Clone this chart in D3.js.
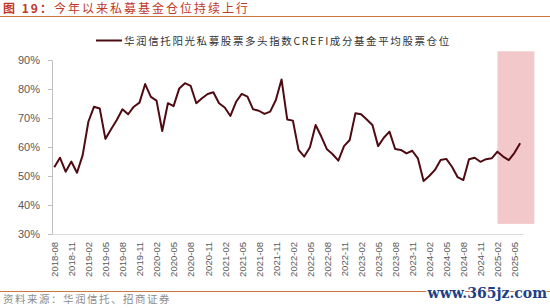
<!DOCTYPE html>
<html>
<head>
<meta charset="utf-8">
<script src="https://cdn.jsdelivr.net/npm/d3@7"></script>
<style>
  body { margin: 0; background: #fff; }
  svg { display: block; }
  .axis text { font-family: "Liberation Sans", Arial, sans-serif; fill: #595959; }
  .cjk { font-family: "Noto Sans CJK SC", sans-serif; }
</style>
</head>
<body>
<svg id="chart"></svg>
<script>
// months of the series (monthly, first and last)
const startMonth = "2018-08";
const endMonth = "2025-06";

// average equity position of CREFI constituent funds (%)
const positionValues = [
  53.0, 56.3, 51.5, 55.0, 51.1, 57.2, 68.7, 73.9, 73.3, 62.8,
  66.1, 69.3, 73.0, 71.3, 73.9, 75.3, 81.7, 77.3, 76.0, 65.5,
  75.1, 74.1, 80.2, 82.0, 81.1, 75.1, 76.8, 78.3, 78.9, 75.1,
  73.6, 70.7, 75.6, 78.3, 77.4, 73.0, 72.5, 71.4, 72.2, 76.2,
  83.3, 69.5, 69.1, 59.0, 56.7, 59.9, 67.6, 63.6, 59.2, 57.5,
  55.3, 60.3, 62.4, 71.6, 71.3, 69.5, 67.6, 60.3, 63.2, 65.3,
  59.3, 59.0, 57.8, 58.7, 56.1, 48.3, 50.0, 52.1, 55.5, 55.9,
  53.2, 49.6, 48.6, 55.8, 56.3, 54.9, 55.8, 56.1, 58.4, 56.7,
  55.5, 58.0, 61.3
];

const yTicks = [30, 40, 50, 60, 70, 80, 90];

// highlighted period (this year)
const shadeMonths = ["2025-02", "2025-08"];
const shadeRange = [33.5, 93];

const titleLabel = "图 19：";
const titleText = "今年以来私募基金仓位持续上行";
const legendLabel = "华润信托阳光私募股票多头指数CREFI成分基金平均股票仓位";
const sourceText = "资料来源：华润信托、招商证券";
const watermarkText = "www.365jz.com";

class LineChart {
  constructor(_config, _data) {
    this.config = {
      parentElement: _config.parentElement,
      containerWidth: 550,
      containerHeight: 308,
      margin: { top: 60, right: 27, bottom: 74, left: 52 },
      lineColor: "#4f0b12",
      shadeColor: "#f2c8cb",
      accent: "#c9773c",
      titleColor: "#c0392b"
    };
    this.data = _data;
    this.initVis();
  }

  initVis() {
    let vis = this;
    const cfg = vis.config;

    vis.width = cfg.containerWidth - cfg.margin.left - cfg.margin.right;
    vis.height = cfg.containerHeight - cfg.margin.top - cfg.margin.bottom;

    vis.svg = d3.select(cfg.parentElement)
      .attr("width", cfg.containerWidth)
      .attr("height", cfg.containerHeight);

    vis.svg.append("rect")
      .attr("width", cfg.containerWidth)
      .attr("height", cfg.containerHeight)
      .attr("fill", "#fff");

    // Title + rule
    const title = vis.svg.append("text")
      .attr("class", "cjk")
      .attr("x", 3)
      .attr("y", 13)
      .attr("fill", cfg.titleColor)
      .style("font-size", "12px")
      .style("letter-spacing", "2px");
    title.append("tspan").style("font-weight", "bold").text(titleLabel);
    title.append("tspan").text(titleText);

    vis.svg.append("line")
      .attr("x1", 0).attr("x2", cfg.containerWidth)
      .attr("y1", 16.5).attr("y2", 16.5)
      .attr("stroke", cfg.accent)
      .attr("stroke-width", 1);

    // Legend
    vis.svg.append("line")
      .attr("x1", 96).attr("x2", 122)
      .attr("y1", 40.5).attr("y2", 40.5)
      .attr("stroke", cfg.lineColor)
      .attr("stroke-width", 2);

    vis.svg.append("text")
      .attr("class", "cjk")
      .attr("x", 124)
      .attr("y", 44.5)
      .attr("fill", "#333")
      .style("font-size", "10.5px")
      .style("letter-spacing", "1.6px")
      .text(legendLabel);

    vis.chart = vis.svg.append("g")
      .attr("transform", `translate(${cfg.margin.left},${cfg.margin.top})`);

    // Scales
    vis.xScale = d3.scaleLinear().range([0, vis.width]);
    vis.yScale = d3.scaleLinear().domain([30, 90]).range([vis.height, 0]);

    vis.shadeGroup = vis.chart.append("g");
    vis.xAxisGroup = vis.chart.append("g")
      .attr("class", "axis x-axis")
      .attr("transform", `translate(0,${vis.height})`);
    vis.yAxisGroup = vis.chart.append("g")
      .attr("class", "axis y-axis");
    vis.linePath = vis.chart.append("path")
      .attr("fill", "none")
      .attr("stroke", cfg.lineColor)
      .attr("stroke-width", 2)
      .attr("stroke-linejoin", "round");

    // Footer
    vis.svg.append("line")
      .attr("x1", 0).attr("x2", cfg.containerWidth)
      .attr("y1", 291.5).attr("y2", 291.5)
      .attr("stroke", cfg.accent)
      .attr("stroke-width", 1);

    vis.svg.append("text")
      .attr("class", "cjk")
      .attr("x", 3)
      .attr("y", 303)
      .attr("fill", "#8c8c8c")
      .style("font-size", "10.5px")
      .style("letter-spacing", "1.5px")
      .text(sourceText);

    vis.svg.append("text")
      .attr("x", 547)
      .attr("y", 298)
      .attr("text-anchor", "end")
      .attr("fill", "#1d3f86")
      .attr("stroke", "#fff")
      .attr("stroke-width", 2)
      .attr("paint-order", "stroke")
      .style("font-family", "'DejaVu Serif', serif")
      .style("font-weight", "bold")
      .style("font-size", "14px")
      .text(watermarkText);

    vis.updateVis();
  }

  updateVis() {
    let vis = this;
    const parseMonth = d3.timeParse("%Y-%m");
    const fmt = d3.timeFormat("%Y-%m");
    vis.start = parseMonth(startMonth);

    vis.months = d3.timeMonth
      .range(vis.start, d3.timeMonth.offset(parseMonth(endMonth), 1))
      .map(fmt);
    vis.points = vis.data.map((v, i) => ({ i, month: vis.months[i], value: v }));

    vis.xScale.domain([-0.4, vis.months.length - 0.5]);
    vis.monthIndex = m => d3.timeMonth.count(vis.start, parseMonth(m));

    vis.renderVis();
  }

  renderVis() {
    let vis = this;

    // shaded period
    vis.shadeGroup.selectAll("rect")
      .data([shadeMonths])
      .join("rect")
      .attr("x", d => vis.xScale(vis.monthIndex(d[0])))
      .attr("width", d => vis.xScale(vis.monthIndex(d[1]) + 0.5) - vis.xScale(vis.monthIndex(d[0])))
      .attr("y", vis.yScale(shadeRange[1]))
      .attr("height", vis.yScale(shadeRange[0]) - vis.yScale(shadeRange[1]))
      .attr("fill", vis.config.shadeColor);

    const line = d3.line()
      .x(d => vis.xScale(d.i))
      .y(d => vis.yScale(d.value));
    vis.linePath.datum(vis.points).attr("d", line);

    // axes
    const xTicks = vis.points.filter(d => d.i % 3 === 0).map(d => d.i);
    vis.xAxisGroup.call(
      d3.axisBottom(vis.xScale)
        .tickValues(xTicks)
        .tickFormat(i => vis.months[i])
        .tickSize(0)
    );
    vis.xAxisGroup.select(".domain").attr("stroke", "#d9d9d9");
    vis.xAxisGroup.selectAll("text")
      .attr("transform", "rotate(-90)")
      .attr("text-anchor", "end")
      .attr("x", -8)
      .attr("y", 0)
      .attr("dy", "0.35em")
      .style("font-size", "9.5px");

    vis.yAxisGroup.call(
      d3.axisLeft(vis.yScale)
        .tickValues(yTicks)
        .tickFormat(d => d + "%")
        .tickSize(4)
        .tickSizeOuter(0)
        .tickPadding(8)
    );
    vis.yAxisGroup.select(".domain").attr("stroke", "#bfbfbf");
    vis.yAxisGroup.selectAll(".tick line").attr("stroke", "#bfbfbf");
    vis.yAxisGroup.selectAll("text").style("font-size", "11px");
  }
}

const chart = new LineChart({ parentElement: "#chart" }, positionValues);
</script>
</body>
</html>
